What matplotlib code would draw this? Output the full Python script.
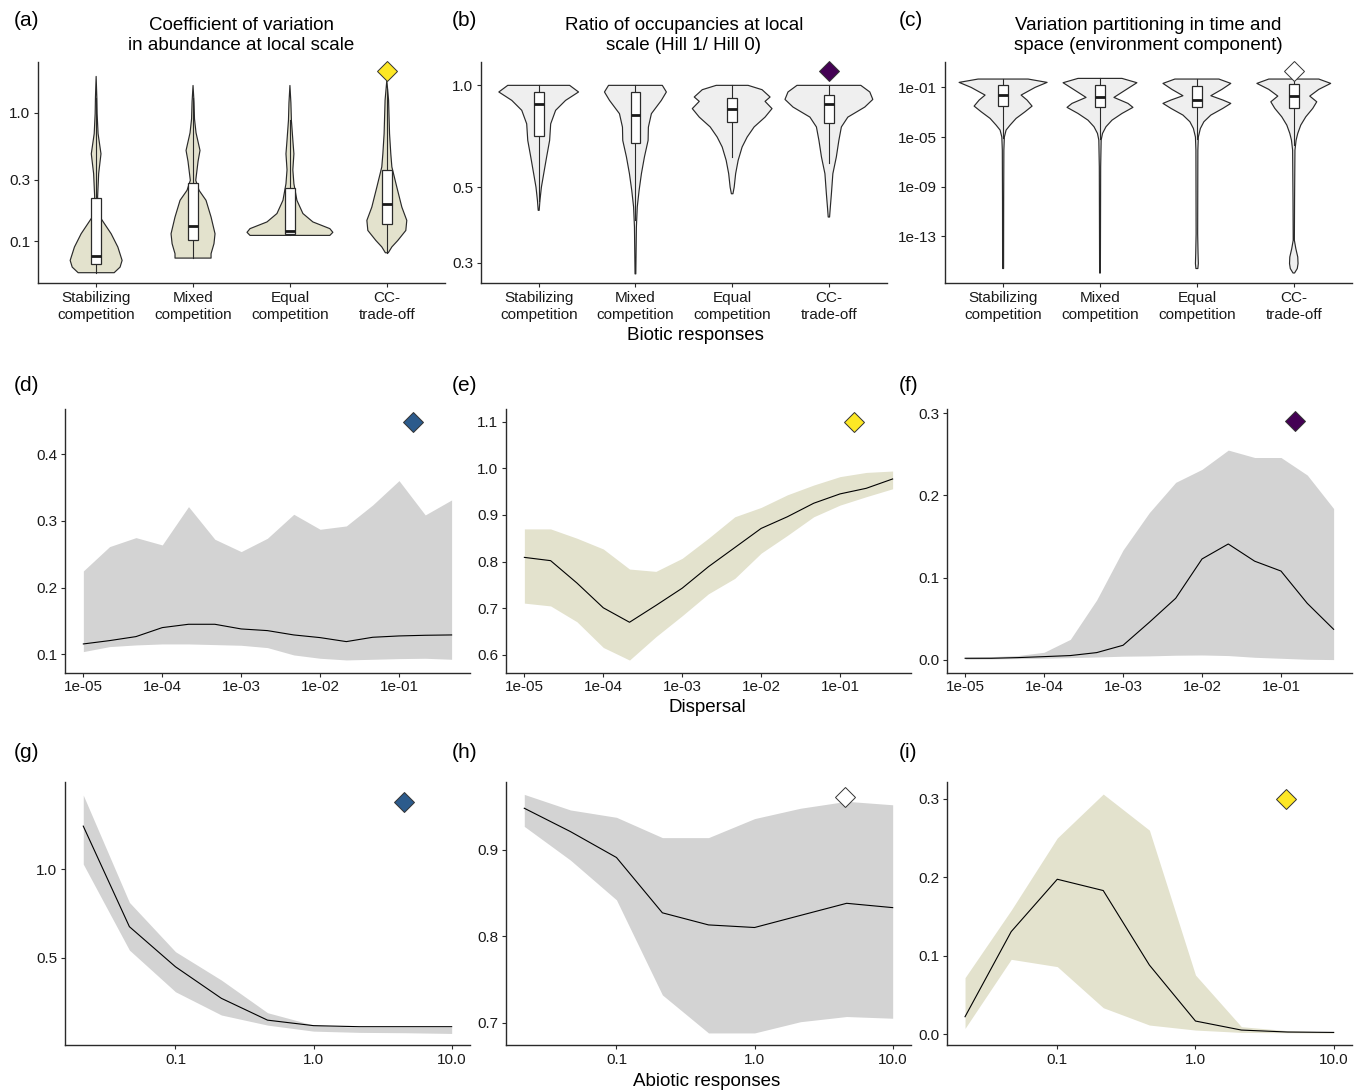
import numpy as np
import matplotlib
matplotlib.use('Agg')
import matplotlib.pyplot as plt
from matplotlib.patches import Rectangle
from matplotlib.ticker import FixedLocator, NullLocator

plt.rcParams['font.family'] = ['Liberation Sans', 'DejaVu Sans']

# ---------------- data ----------------
categories = ['Stabilizing\ncompetition', 'Mixed\ncompetition', 'Equal\ncompetition', 'CC-\ntrade-off']

# violin outlines: y values and half widths (category units)
a_prof_y = [
    [1.93, 1.33, 0.99, 0.69, 0.48, 0.336, 0.22, 0.154, 0.114, 0.0898, 0.0706, 0.0626, 0.0566],
    [1.64, 1.22, 0.9, 0.7, 0.51, 0.42, 0.298, 0.249, 0.208, 0.154, 0.114, 0.0953, 0.0796, 0.0736],
    [1.64, 1.2, 0.88, 0.6, 0.48, 0.36, 0.28, 0.208, 0.164, 0.141, 0.125, 0.117, 0.1107],
    [1.8, 1.26, 0.69, 0.48, 0.379, 0.264, 0.184, 0.145, 0.121, 0.101, 0.090, 0.081],
]
a_prof_w = [
    [0, .007, .01, .02, .05, .026, .015, .04, .155, .224, .268, .247, .186],
    [0, .01, .015, .031, .072, .052, .028, .062, .134, .186, .227, .216, .186, .186],
    [0, .01, .015, .031, .041, .03, .041, .072, .134, .237, .412, .443, .412],
    [0, .018, .028, .041, .052, .103, .155, .206, .196, .113, .052, .015],
]
a_q1 = [0.0657, 0.102, 0.1135, 0.135]
a_med = [0.076, 0.131, 0.1195, 0.196]
a_q3 = [0.218, 0.284, 0.26, 0.361]
a_lo = [0.0566, 0.0736, 0.1107, 0.081]
a_hi = [1.3, 1.3, 0.88, 1.55]

b_prof_y = [
    [1.0, 0.956, 0.903, 0.844, 0.77, 0.688, 0.615, 0.549, 0.501, 0.458, 0.428],
    [1.0, 0.956, 0.903, 0.825, 0.753, 0.688, 0.615, 0.549, 0.49, 0.438, 0.382, 0.326, 0.278],
    [1.0, 0.971, 0.924, 0.897, 0.854, 0.806, 0.754, 0.704, 0.658, 0.601, 0.549, 0.501, 0.479],
    [1.0, 0.956, 0.909, 0.863, 0.806, 0.754, 0.688, 0.615, 0.549, 0.479, 0.438, 0.409],
]
b_prof_w = [
    [.32, .412, .278, .175, .124, .113, .082, .052, .028, .013, .005],
    [.278, .32, .268, .165, .134, .131, .093, .062, .038, .019, .01, .007, .004],
    [.165, .309, .392, .34, .412, .34, .227, .155, .103, .062, .036, .021, .008],
    [.33, .423, .454, .371, .196, .129, .103, .077, .041, .026, .015, .007],
]
b_q1 = [0.71, 0.675, 0.78, 0.777]
b_med = [0.88, 0.82, 0.85, 0.88]
b_q3 = [0.953, 0.953, 0.915, 0.934]
b_lo = [0.456, 0.40, 0.614, 0.59]
b_hi = [1.0, 1.0, 1.0, 1.0]

# panel c in log10 units
c_prof_log = [
    [-0.327, -0.596, -1.0, -1.619, -2.02, -2.507, -2.96, -3.5, -4.04, -4.44, -5.0, -6.06, -10.1, -15.6],
    [-0.274, -0.623, -1.08, -1.807, -2.29, -2.61, -3.1, -3.64, -4.17, -4.71, -5.25, -7.4, -15.96],
    [-0.327, -0.677, -1.16, -1.67, -2.02, -2.29, -2.69, -3.23, -3.77, -4.31, -5.0, -6.06, -12.8, -14.4, -15.2, -15.6],
    [-0.327, -0.677, -1.16, -1.70, -2.16, -2.69, -3.37, -4.04, -4.71, -5.25, -6.06, -10.1, -13.32, -13.99, -14.67,
     -15.2, -15.6, -15.96],
]
c_prof_w = [
    [.258, .454, .33, .186, .247, .299, .227, .134, .072, .031, .013, .008, .006, .005],
    [.227, .381, .289, .144, .289, .34, .227, .124, .062, .026, .012, .007, .004],
    [.227, .35, .258, .144, .268, .35, .268, .144, .072, .036, .015, .01, .008, .012, .015, .01],
    [.258, .381, .258, .165, .237, .196, .124, .072, .041, .024, .012, .008, .006, .021, .041, .044, .036, .008],
]
c_q1 = [-2.51, -2.56, -2.61, -2.69]
c_med = [-1.62, -1.81, -2.02, -1.67]
c_q3 = [-0.81, -0.81, -0.89, -0.73]
c_lo = [-5.06, -5.19, -5.19, -5.63]
c_hi = [-0.327, -0.274, -0.327, -0.327]

# dispersal gradient
dispersal = [1e-5, 2.15e-5, 4.64e-5, 1e-4, 2.15e-4, 4.64e-4, 1e-3, 2.15e-3, 4.64e-3,
             1e-2, 2.15e-2, 4.64e-2, 1e-1, 2.15e-1, 4.64e-1]
d_hi = [0.225, 0.2615, 0.275, 0.264, 0.3215, 0.2725, 0.254, 0.274, 0.31, 0.2875, 0.2925, 0.324, 0.3605, 0.309, 0.3315]
d_mid = [0.1155, 0.1205, 0.1265, 0.14, 0.145, 0.145, 0.138, 0.1355, 0.129, 0.125, 0.119, 0.1255, 0.1275, 0.1285, 0.129]
d_lo = [0.104, 0.1115, 0.114, 0.1155, 0.1155, 0.1145, 0.1135, 0.11, 0.099, 0.094, 0.0915, 0.0925, 0.0935, 0.094, 0.0925]

e_hi = [0.87, 0.87, 0.85, 0.827, 0.784, 0.779, 0.807, 0.85, 0.896, 0.916, 0.943, 0.964, 0.982, 0.991, 0.994]
e_mid = [0.809, 0.802, 0.754, 0.701, 0.67, 0.706, 0.743, 0.789, 0.83, 0.871, 0.896, 0.925, 0.945, 0.957, 0.977]
e_lo = [0.711, 0.705, 0.671, 0.616, 0.589, 0.639, 0.684, 0.731, 0.764, 0.818, 0.856, 0.896, 0.921, 0.939, 0.956]

f_hi = [0.0032, 0.004, 0.0053, 0.0093, 0.025, 0.073, 0.1336, 0.179, 0.2158, 0.2316, 0.255, 0.246, 0.246, 0.2247, 0.184]
f_mid = [0.002, 0.002, 0.0028, 0.004, 0.0053, 0.0089, 0.0178, 0.0457, 0.0749, 0.1227, 0.1409, 0.12, 0.108, 0.0688, 0.0372]
f_lo = [0.0008, 0.0012, 0.0016, 0.002, 0.0028, 0.0036, 0.0045, 0.0049, 0.0057, 0.006, 0.0053, 0.0032, 0.002, 0.0008, 0.0004]

# abiotic gradient
abiotic = [0.0215, 0.0464, 0.1, 0.215, 0.464, 1.0, 2.15, 4.64, 10.0]
g_hi = [1.417, 0.812, 0.534, 0.374, 0.19, 0.12, 0.107, 0.107, 0.107]
g_mid = [1.242, 0.675, 0.449, 0.271, 0.148, 0.117, 0.111, 0.111, 0.111]
g_lo = [1.028, 0.543, 0.308, 0.177, 0.12, 0.086, 0.079, 0.077, 0.073]

h_hi = [0.964, 0.946, 0.9375, 0.914, 0.914, 0.936, 0.948, 0.956, 0.952]
h_mid = [0.948, 0.921, 0.891, 0.827, 0.813, 0.81, 0.824, 0.838, 0.833]
h_lo = [0.927, 0.888, 0.842, 0.732, 0.688, 0.688, 0.701, 0.707, 0.705]

i_hi = [0.0719, 0.158, 0.25, 0.306, 0.26, 0.0753, 0.0094, 0.0043, 0.0026]
i_mid = [0.0221, 0.1306, 0.1974, 0.183, 0.088, 0.0166, 0.0051, 0.0026, 0.0021]
i_lo = [0.0072, 0.0953, 0.086, 0.0336, 0.0115, 0.0051, 0.0021, 0.0017, 0.0013]

# highlighted scenario markers (x, y) per panel
diamond_x = {'a': 4, 'b': 4, 'c': 4, 'd': 0.152, 'e': 0.150, 'f': 0.152, 'g': 4.49, 'h': 4.53, 'i': 4.5}
diamond_y = {'a': 2.12, 'b': 1.10, 'c': 2.08, 'd': 0.449, 'e': 1.10, 'f': 0.29, 'g': 1.38, 'h': 0.961, 'i': 0.30}

# ---------------- style ----------------
YELLOW = '#FDE725'
PURPLE = '#440154'
BLUE = '#2C5B8C'
WHITE = '#FFFFFF'
diamond_col = {'a': YELLOW, 'b': PURPLE, 'c': WHITE, 'd': BLUE, 'e': YELLOW, 'f': PURPLE,
               'g': BLUE, 'h': WHITE, 'i': YELLOW}
KHAKI = '#E3E2CD'
LGREY = '#EFEFEF'
BAND = '#D3D3D3'
AXC = '#2a2a2a'


def style_axes(ax):
    for s in ['top', 'right']:
        ax.spines[s].set_visible(False)
    for s in ['left', 'bottom']:
        ax.spines[s].set_color(AXC)
        ax.spines[s].set_linewidth(1.0)
    ax.tick_params(length=3, width=0.8, color=AXC, labelsize=11, labelcolor='#1a1a1a', pad=2.5)
    ax.xaxis.set_minor_locator(NullLocator())
    ax.yaxis.set_minor_locator(NullLocator())


def draw_violins(ax, prof_y, prof_w, q1, med, q3, lo, hi, fill):
    for k in range(4):
        xc = k + 1
        y = np.array(prof_y[k])
        w = np.array(prof_w[k])
        xs = np.concatenate([xc - w, (xc + w)[::-1]])
        ys = np.concatenate([y, y[::-1]])
        ax.fill(xs, ys, facecolor=fill, edgecolor=AXC, lw=0.85, joinstyle='round', zorder=2)
        ax.plot([xc, xc], [q3[k], hi[k]], color=AXC, lw=0.8, zorder=3)
        ax.plot([xc, xc], [lo[k], q1[k]], color=AXC, lw=0.8, zorder=3)
        ax.add_patch(Rectangle((xc - 0.05, q1[k]), 0.1, q3[k] - q1[k], facecolor='white',
                               edgecolor=AXC, lw=0.9, zorder=4))
        ax.plot([xc - 0.05, xc + 0.05], [med[k], med[k]], color='#1a1a1a', lw=2.0,
                solid_capstyle='butt', zorder=5)
    ax.set_xlim(0.4, 4.6)
    ax.set_yscale('log')
    ax.set_xticks([1, 2, 3, 4])
    ax.set_xticklabels(categories, linespacing=1.3)


def draw_band(ax, x, lo, mid, hi, fill):
    ax.fill_between(x, lo, hi, color=fill, lw=0, zorder=1)
    ax.plot(x, mid, color='black', lw=0.8, zorder=2)
    ax.set_xscale('log')


def put_diamond(ax, key):
    ax.plot([diamond_x[key]], [diamond_y[key]], marker='D', ms=10, mfc=diamond_col[key],
            mec='#333333', mew=0.7, ls='none', zorder=6, clip_on=False)


fig = plt.figure(figsize=(13.62, 10.92), dpi=100)

rows = [(0.7408, 0.2024), (0.3840, 0.2415), (0.0430, 0.2406)]
cols_top = [(0.0279, 0.2988), (0.3529, 0.2983), (0.6938, 0.2988)]
cols = [(0.0477, 0.2974), (0.3715, 0.2974), (0.6951, 0.2976)]

ax_a = fig.add_axes([cols_top[0][0], rows[0][0], cols_top[0][1], rows[0][1]])
ax_b = fig.add_axes([cols_top[1][0], rows[0][0], cols_top[1][1], rows[0][1]])
ax_c = fig.add_axes([cols_top[2][0], rows[0][0], cols_top[2][1], rows[0][1]])
ax_d, ax_e, ax_f = [fig.add_axes([c[0], rows[1][0], c[1], rows[1][1]]) for c in cols]
ax_g, ax_h, ax_i = [fig.add_axes([c[0], rows[2][0], c[1], rows[2][1]]) for c in cols]

title_kw = dict(fontsize=13.5, pad=9, linespacing=1.22)

# (a)
draw_violins(ax_a, a_prof_y, a_prof_w, a_q1, a_med, a_q3, a_lo, a_hi, KHAKI)
ax_a.set_ylim(10 ** -1.328, 10 ** 0.398)
ax_a.yaxis.set_major_locator(FixedLocator([0.1, 0.3, 1.0]))
ax_a.set_yticklabels(['0.1', '0.3', '1.0'])
ax_a.set_title('Coefficient of variation\nin abundance at local scale', **title_kw)

# (b)
draw_violins(ax_b, b_prof_y, b_prof_w, b_q1, b_med, b_q3, b_lo, b_hi, LGREY)
ax_b.set_ylim(10 ** -0.583, 10 ** 0.0688)
ax_b.yaxis.set_major_locator(FixedLocator([0.3, 0.5, 1.0]))
ax_b.set_yticklabels(['0.3', '0.5', '1.0'])
ax_b.set_title('Ratio of occupancies at local\nscale (Hill 1/ Hill 0)', **title_kw)

# (c)
c_prof_y = [10.0 ** np.array(p) for p in c_prof_log]
draw_violins(ax_c, c_prof_y, c_prof_w, 10.0 ** np.array(c_q1), 10.0 ** np.array(c_med),
             10.0 ** np.array(c_q3), 10.0 ** np.array(c_lo), 10.0 ** np.array(c_hi), LGREY)
ax_c.set_ylim(10 ** -16.77, 10 ** 1.045)
ax_c.yaxis.set_major_locator(FixedLocator([1e-13, 1e-9, 1e-5, 1e-1]))
ax_c.set_yticklabels(['1e-13', '1e-09', '1e-05', '1e-01'])
ax_c.set_title('Variation partitioning in time and\nspace (environment component)', **title_kw)

# (d)-(f) dispersal
disp_ticks = [1e-5, 1e-4, 1e-3, 1e-2, 1e-1]
disp_labels = ['1e-05', '1e-04', '1e-03', '1e-02', '1e-01']
for ax, lo, mid, hi, fill in [(ax_d, d_lo, d_mid, d_hi, BAND), (ax_e, e_lo, e_mid, e_hi, KHAKI),
                              (ax_f, f_lo, f_mid, f_hi, BAND)]:
    draw_band(ax, dispersal, lo, mid, hi, fill)
    ax.set_xlim(10 ** -5.233, 10 ** -0.1)
    ax.xaxis.set_major_locator(FixedLocator(disp_ticks))
    ax.set_xticklabels(disp_labels)

ax_d.set_ylim(0.0724, 0.468)
ax_d.set_yticks([0.1, 0.2, 0.3, 0.4])
ax_d.set_yticklabels(['0.1', '0.2', '0.3', '0.4'])
ax_e.set_ylim(0.562, 1.127)
ax_e.set_yticks([0.6, 0.7, 0.8, 0.9, 1.0, 1.1])
ax_e.set_yticklabels(['0.6', '0.7', '0.8', '0.9', '1.0', '1.1'])
ax_f.set_ylim(-0.0155, 0.305)
ax_f.set_yticks([0.0, 0.1, 0.2, 0.3])
ax_f.set_yticklabels(['0.0', '0.1', '0.2', '0.3'])

# (g)-(i) abiotic
ab_ticks = [0.1, 1.0, 10.0]
ab_labels = ['0.1', '1.0', '10.0']
for ax, lo, mid, hi, fill in [(ax_g, g_lo, g_mid, g_hi, BAND), (ax_h, h_lo, h_mid, h_hi, BAND),
                              (ax_i, i_lo, i_mid, i_hi, KHAKI)]:
    draw_band(ax, abiotic, lo, mid, hi, fill)
    ax.set_xlim(10 ** -1.8, 10 ** 1.133)
    ax.xaxis.set_major_locator(FixedLocator(ab_ticks))
    ax.set_xticklabels(ab_labels)

ax_g.set_ylim(0.0076, 1.489)
ax_g.set_yticks([0.5, 1.0])
ax_g.set_yticklabels(['0.5', '1.0'])
ax_h.set_ylim(0.674, 0.978)
ax_h.set_yticks([0.7, 0.8, 0.9])
ax_h.set_yticklabels(['0.7', '0.8', '0.9'])
ax_i.set_ylim(-0.014, 0.321)
ax_i.set_yticks([0.0, 0.1, 0.2, 0.3])
ax_i.set_yticklabels(['0.0', '0.1', '0.2', '0.3'])

panels = {'a': ax_a, 'b': ax_b, 'c': ax_c, 'd': ax_d, 'e': ax_e, 'f': ax_f, 'g': ax_g, 'h': ax_h, 'i': ax_i}
for key, ax in panels.items():
    style_axes(ax)
    put_diamond(ax, key)

# panel letters
letter_x = [14 / 1362, 452 / 1362, 899 / 1362]
letter_y = [1 - 20 / 1092, 1 - 385 / 1092, 1 - 753 / 1092]
for r, row_keys in enumerate(['abc', 'def', 'ghi']):
    for c, key in enumerate(row_keys):
        fig.text(letter_x[c], letter_y[r], '(%s)' % key, fontsize=15, ha='left', va='center')

# shared axis labels
fig.text(695 / 1362, 1 - 336 / 1092, 'Biotic responses', fontsize=13.5, ha='center', va='center')
fig.text(707 / 1362, 1 - 708 / 1092, 'Dispersal', fontsize=13.5, ha='center', va='center')
fig.text(707 / 1362, 1 - 1082 / 1092, 'Abiotic responses', fontsize=13.5, ha='center', va='center')

fig.savefig('out.png', dpi=100, facecolor='white')
